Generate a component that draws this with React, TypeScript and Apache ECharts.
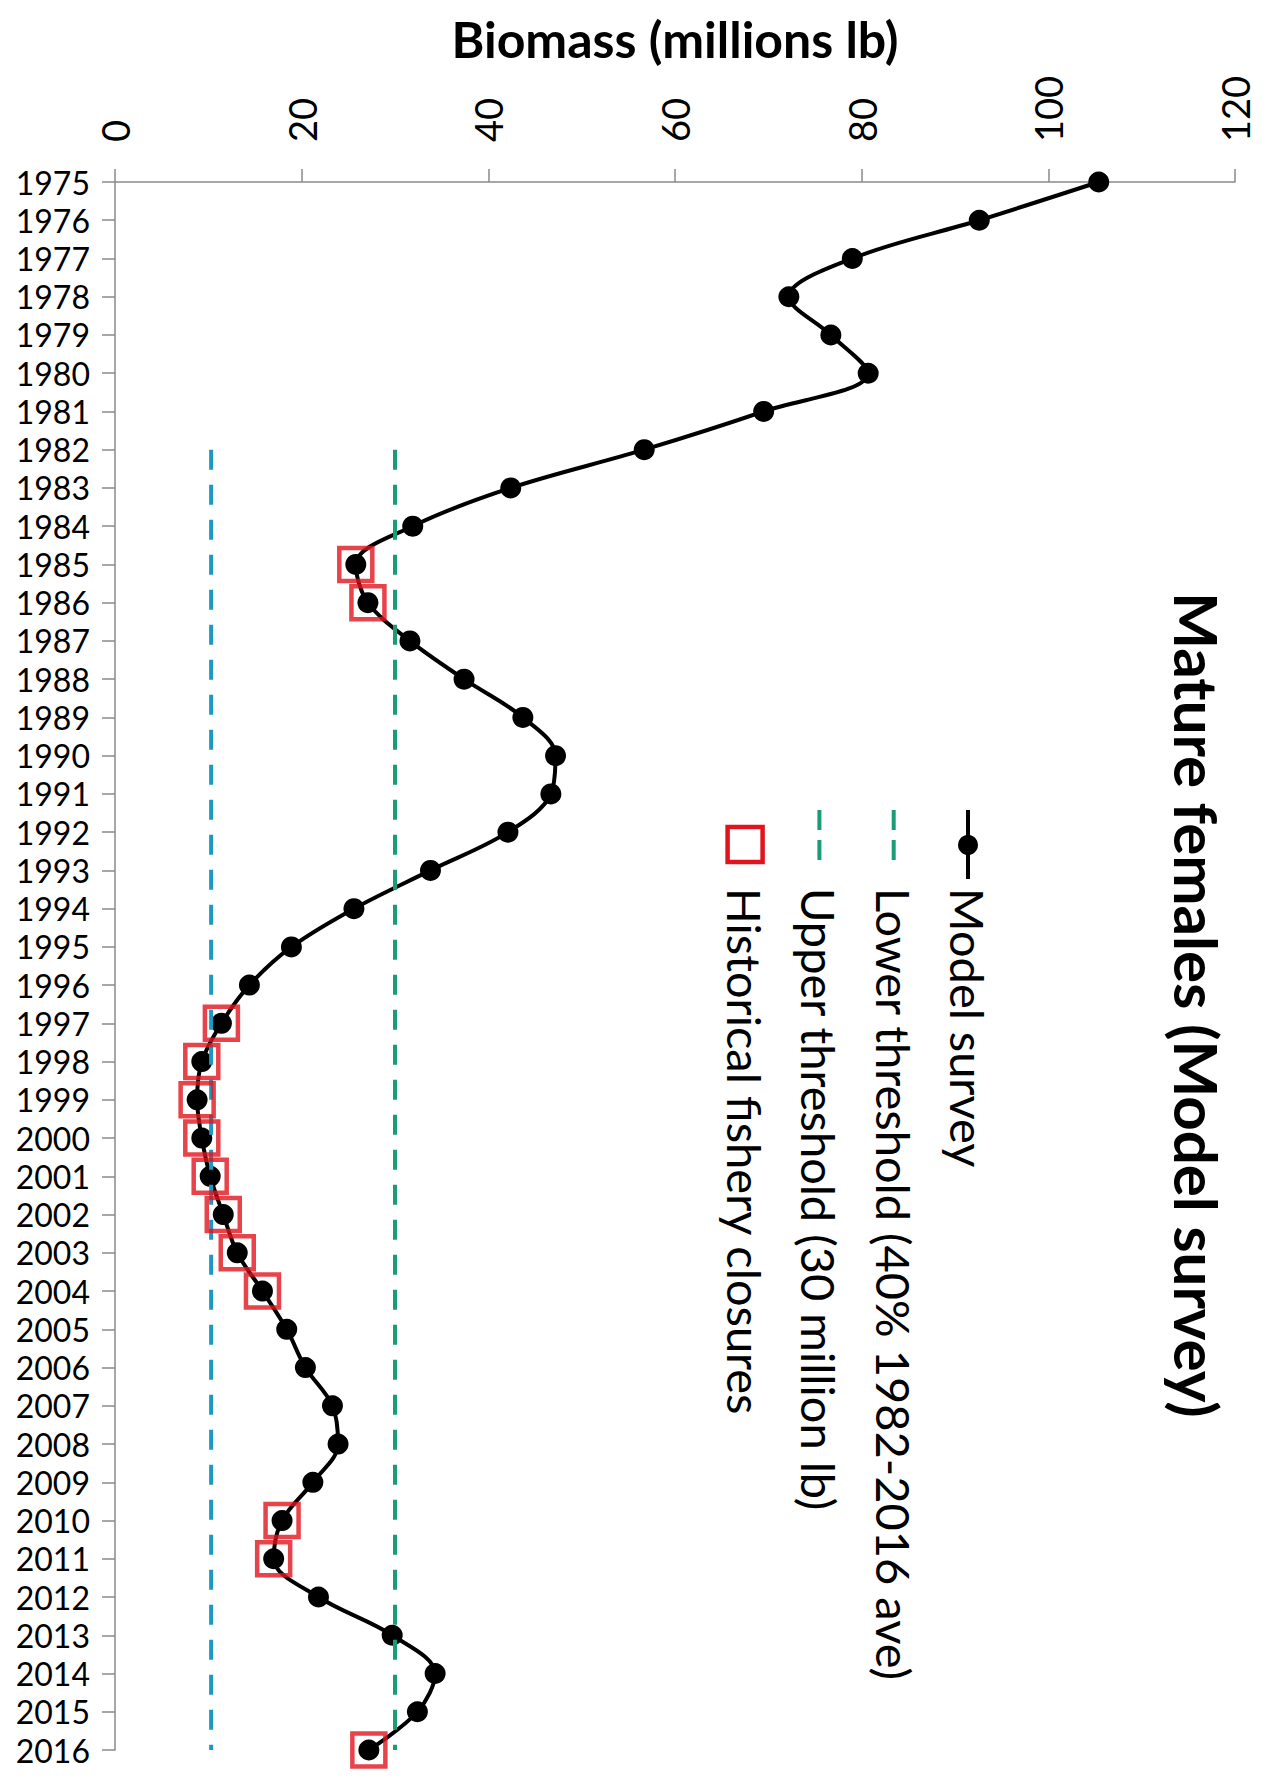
import React, { useEffect, useRef } from 'react';
import * as echarts from 'echarts';

const years = [
  '1975', '1976', '1977', '1978', '1979', '1980', '1981', '1982', '1983', '1984',
  '1985', '1986', '1987', '1988', '1989', '1990', '1991', '1992', '1993', '1994',
  '1995', '1996', '1997', '1998', '1999', '2000', '2001', '2002', '2003', '2004',
  '2005', '2006', '2007', '2008', '2009', '2010', '2011', '2012', '2013', '2014',
  '2015', '2016',
];

const modelSurvey = [
  105.4, 92.6, 79.0, 72.2, 76.7, 80.7, 69.5, 56.7, 42.4, 31.9,
  25.8, 27.1, 31.6, 37.4, 43.7, 47.2, 46.7, 42.1, 33.8, 25.6,
  18.9, 14.4, 11.4, 9.3, 8.8, 9.3, 10.2, 11.6, 13.1, 15.8,
  18.4, 20.4, 23.3, 23.9, 21.2, 17.9, 17.0, 21.8, 29.7, 34.3,
  32.4, 27.2,
];

const closureYears = [
  '1985', '1986', '1997', '1998', '1999', '2000', '2001', '2002', '2003', '2004',
  '2010', '2011', '2016',
];

const thresholdStartYear = 1982;
const lowerThreshold = 10.3;
const upperThreshold = 30;

const xTicks = [0, 20, 40, 60, 80, 100, 120];

const titleText = 'Mature females (Model survey)';
const axisTitle = 'Biomass (millions lb)';
const legendNames = [
  'Model survey',
  'Lower threshold (40% 1982-2016 ave)',
  'Upper threshold (30 million lb)',
  'Historical fishery closures',
];

const FONT = 'Lato, "Open Sans", sans-serif';
const LOWER_COLOR = '#1c98c2';
const UPPER_COLOR = '#1a9c78';
const RED = '#e1141e';

export default function App() {
  const ref = useRef<HTMLDivElement>(null);

  useEffect(() => {
    const chart = echarts.init(ref.current as HTMLDivElement, null, { renderer: 'svg' });

    const lowerData = years.map((y) => (Number(y) >= thresholdStartYear ? lowerThreshold : null));
    const upperData = years.map((y) => (Number(y) >= thresholdStartYear ? upperThreshold : null));
    const closureData = closureYears.map((y) => [modelSurvey[years.indexOf(y)], y]);

    const D = 74.3;
    const legendText = (i: number) => ({
      type: 'text',
      x: 78,
      y: i * D,
      style: {
        text: legendNames[i],
        fontSize: 47,
        fontFamily: FONT,
        fill: '#000',
        align: 'left',
        verticalAlign: 'middle',
      },
    });

    const option: any = {
      animation: false,
      backgroundColor: '#ffffff',
      grid: { left: 115, right: 34, top: 182, bottom: 27, containLabel: false },
      xAxis: {
        type: 'value',
        position: 'top',
        min: xTicks[0],
        max: xTicks[xTicks.length - 1],
        interval: 20,
        name: axisTitle,
        nameLocation: 'middle',
        nameGap: 118,
        nameTextStyle: { fontSize: 50, fontWeight: 'bold', fontFamily: FONT, color: '#000' },
        axisLine: { show: true, lineStyle: { color: '#8a8a8a', width: 1.5 } },
        axisTick: { show: true, inside: false, length: 13, lineStyle: { color: '#8a8a8a', width: 1.5 } },
        splitLine: { show: false },
        axisLabel: {
          rotate: -90,
          margin: 40,
          fontSize: 38,
          fontFamily: FONT,
          color: '#000',
        },
      },
      yAxis: {
        type: 'category',
        data: years,
        inverse: true,
        boundaryGap: false,
        axisLine: { show: true, lineStyle: { color: '#8a8a8a', width: 1.5 } },
        axisTick: { show: true, inside: false, length: 13, interval: 0, lineStyle: { color: '#8a8a8a', width: 1.5 } },
        splitLine: { show: false },
        axisLabel: {
          interval: 0,
          margin: 25,
          fontSize: 32,
          fontFamily: FONT,
          color: '#000',
        },
      },
      series: [
        {
          name: legendNames[0],
          type: 'line',
          data: modelSurvey,
          smooth: 0.35,
          symbol: 'circle',
          symbolSize: 21,
          itemStyle: { color: '#000' },
          lineStyle: { color: '#000', width: 4 },
          z: 2,
        },
        {
          name: legendNames[1],
          type: 'line',
          data: lowerData,
          showSymbol: false,
          symbol: 'none',
          lineStyle: { color: LOWER_COLOR, width: 4, type: [20, 15] },
          z: 3,
        },
        {
          name: legendNames[2],
          type: 'line',
          data: upperData,
          showSymbol: false,
          symbol: 'none',
          lineStyle: { color: UPPER_COLOR, width: 4, type: [20, 15] },
          z: 3,
        },
        {
          name: legendNames[3],
          type: 'scatter',
          data: closureData,
          symbol: 'rect',
          symbolSize: 33,
          itemStyle: { color: 'rgba(0,0,0,0)', borderColor: RED, borderWidth: 4.5 },
          z: 4,
        },
      ],
      graphic: [
        {
          type: 'text',
          x: 1197,
          y: 1005,
          rotation: -Math.PI / 2,
          style: {
            text: titleText,
            fontSize: 60,
            fontWeight: 'bold',
            fontFamily: FONT,
            fill: '#000',
            align: 'center',
            verticalAlign: 'middle',
          },
        },
        {
          type: 'group',
          x: 968,
          y: 810,
          rotation: -Math.PI / 2,
          children: [
            { type: 'line', shape: { x1: 0, y1: 0, x2: 69, y2: 0 }, style: { stroke: '#000', lineWidth: 4 } },
            { type: 'circle', shape: { cx: 35, cy: 0, r: 10 }, style: { fill: '#000' } },
            legendText(0),
            { type: 'line', shape: { x1: 0, y1: D, x2: 50, y2: D }, style: { stroke: UPPER_COLOR, lineWidth: 4, lineDash: [20, 10] } },
            legendText(1),
            { type: 'line', shape: { x1: 0, y1: 2 * D, x2: 50, y2: 2 * D }, style: { stroke: UPPER_COLOR, lineWidth: 4, lineDash: [20, 10] } },
            legendText(2),
            { type: 'rect', shape: { x: 17, y: 3 * D - 17.5, width: 35, height: 35 }, style: { fill: 'none', stroke: RED, lineWidth: 4.5 } },
            legendText(3),
          ],
        },
      ],
    };

    chart.setOption(option);
    return () => chart.dispose();
  }, []);

  return (
    <div
      ref={ref}
      style={{ position: 'absolute', left: 0, top: 0, width: 1269, height: 1777, background: '#fff' }}
    />
  );
}
